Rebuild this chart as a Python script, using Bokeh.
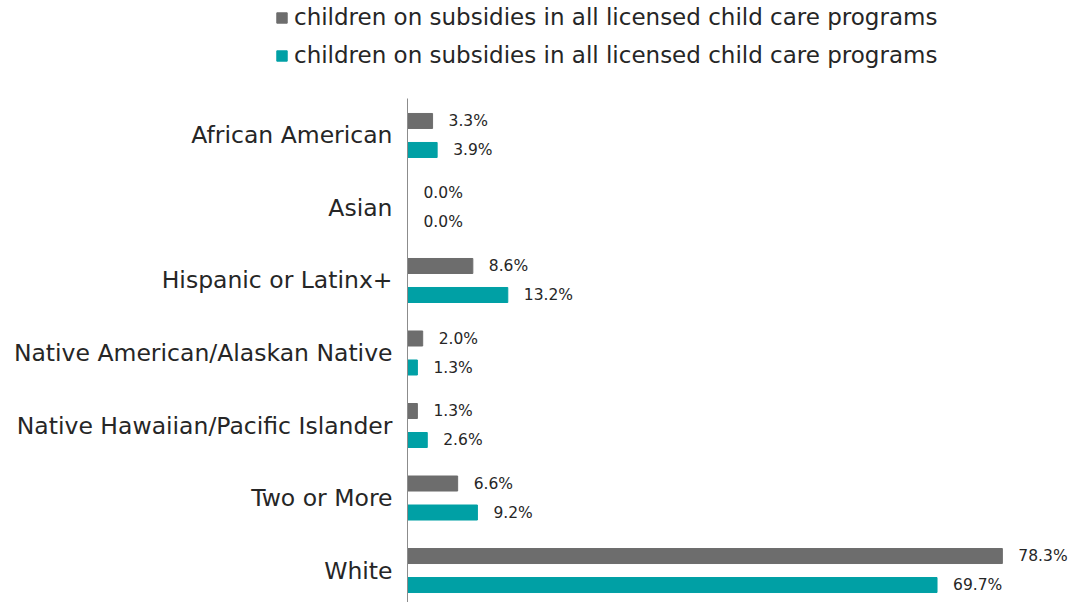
from bokeh.plotting import figure
from bokeh.layouts import column, row
from bokeh.models import Range1d, FixedTicker, Legend, LegendItem, ColumnDataSource
from bokeh.core.properties import value
from bokeh.embed import file_html
from bokeh.resources import INLINE

categories = ["African American", "Asian", "Hispanic or Latinx+",
              "Native American/Alaskan Native", "Native Hawaiian/Pacific Islander",
              "Two or More", "White"]
series1 = [3.3, 0.0, 8.6, 2.0, 1.3, 6.6, 78.3]
series2 = [3.9, 0.0, 13.2, 1.3, 2.6, 9.2, 69.7]
series_names = ["children on subsidies in all licensed child care programs",
                "children on subsidies in all licensed child care programs"]
colors = ["#6d6d6d", "#00a0a5"]

FONT = "DejaVu Sans"
idx = list(range(len(categories)))

# legend strip
top = figure(width=1071, height=98, output_backend="svg", toolbar_location=None,
             x_range=Range1d(0, 1), y_range=Range1d(0, 1),
             min_border_left=275, min_border_right=0, min_border_top=4, min_border_bottom=0)
top.axis.visible = False
top.grid.visible = False
top.outline_line_color = None
leg_r = [top.hbar(y=[2], left=[2], right=[3], height=0.1, color=c) for c in colors]
legend = Legend(items=[LegendItem(label=series_names[0], renderers=[leg_r[0]]),
                       LegendItem(label=series_names[1], renderers=[leg_r[1]])],
                location="top_left", orientation="vertical",
                label_text_font=FONT, label_text_font_size="23px",
                label_text_color="#262626", glyph_width=13, glyph_height=13,
                spacing=12, padding=0, margin=0, border_line_color=None,
                background_fill_alpha=0, label_standoff=6, label_height=26)
top.add_layout(legend)

p = figure(width=1071, height=504, output_backend="svg", toolbar_location=None,
           x_range=Range1d(0, 87.4), y_range=Range1d(6.441, -0.510),
           min_border_left=407, min_border_right=0, min_border_top=0, min_border_bottom=0)

for k, (vals, col) in enumerate(zip([series1, series2], colors)):
    off = -0.2 if k == 0 else 0.2
    ys = [i + off for i in idx]
    src = ColumnDataSource(dict(y=ys, right=vals, lab=[f"{v:.1f}%" for v in vals]))
    p.hbar(y="y", left=0, right="right", height=0.207, color=col, source=src)
    p.text(x="right", y="y", text="lab", source=src, x_offset=16,
           text_baseline="middle", text_align="left", text_font_size="15.5px",
           text_font=value(FONT), text_color="#262626")

p.xaxis.visible = False
p.xgrid.visible = False
p.ygrid.visible = False
p.outline_line_color = None
p.yaxis.ticker = FixedTicker(ticks=idx)
p.yaxis.major_label_overrides = {i: c for i, c in zip(idx, categories)}
p.yaxis.major_tick_line_color = None
p.yaxis.minor_tick_line_color = None
p.yaxis.axis_line_color = "#8c8c8c"
p.yaxis.major_label_text_font = FONT
p.yaxis.major_label_text_font_size = "23.5px"
p.yaxis.major_label_text_color = "#262626"
p.yaxis.major_label_standoff = 9

layout = column(row(top), row(p), spacing=0)
open("out.html", "w").write(file_html(layout, INLINE))
